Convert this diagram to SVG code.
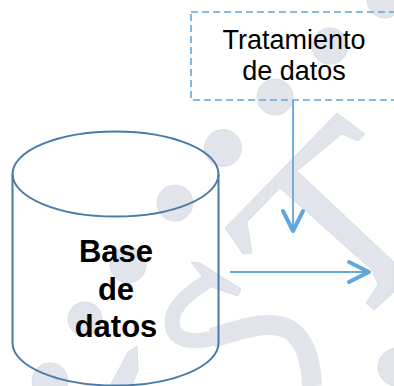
<svg xmlns="http://www.w3.org/2000/svg" width="394" height="386" viewBox="0 0 394 386">
<defs>
<style>
.wm{fill:#e1e4ea;stroke:#d6dae0;stroke-width:0.8}
.wms{fill:none;stroke:#e1e4ea;stroke-linecap:butt}
.conn{stroke:#62a7dc;stroke-width:1.8;fill:none}
.head{fill:none;stroke:#62a7dc;stroke-width:4;stroke-linecap:round;stroke-linejoin:round}
.cyl{fill:none;stroke:#4a7ba6;stroke-width:2}
.dash{fill:none;stroke:#62a7dc;stroke-width:1.6;stroke-dasharray:7 4}
.lbl{font-family:"Liberation Sans",Arial,sans-serif;font-size:27px;fill:#000;text-anchor:middle}
.bold{font-family:"Liberation Sans",Arial,sans-serif;font-size:31px;font-weight:bold;fill:#000;text-anchor:middle}
</style>
<marker id="arr" markerUnits="userSpaceOnUse" viewBox="0 0 26 26" markerWidth="26" markerHeight="26" refX="23" refY="13" orient="auto">
<path class="head" d="M3,3 L23,13 L3,23"/>
</marker>
</defs>
<g id="watermark">
<circle class="wm" cx="385" cy="0" r="18"/>
<circle class="wm" cx="330" cy="46" r="18"/>
<circle class="wm" cx="275" cy="97" r="18"/>
<circle class="wm" cx="223" cy="148" r="18.5"/>
<circle class="wm" cx="175" cy="203" r="18"/>
<circle class="wm" cx="128" cy="265" r="18"/>
<circle class="wm" cx="85" cy="319" r="17"/>
<circle class="wm" cx="50" cy="381" r="18"/>
<circle class="wm" cx="397" cy="367" r="19"/>
<polygon class="wm" points="337,113 365,134 358,141 342,134 297,171 394,262 394,292 374,310 366,303 378,285 372,270 280,188 247,222 252,253 243,254 225,228"/>
<path class="wms" d="M213,278 C192,290 172,305 172,322 C172,340 190,345 217,337" stroke-width="15"/>
<path class="wms" d="M212,338 C240,330 268,318 290,330 C305,340 311,360 312,386" stroke-width="20"/>
<polygon class="wm" points="191,262 200,263 241,289 238,296 214,288 205,280"/>
<polygon class="wm" points="110,386 128,352 137,346 138,370 132,386"/>
</g>
<g id="connectors">
<line class="conn" x1="293" y1="100" x2="293" y2="231" marker-end="url(#arr)"/>
<line class="conn" x1="230" y1="272" x2="369" y2="272" marker-end="url(#arr)"/>
</g>
<g id="node-tratamiento">
<rect class="dash" x="191" y="12" width="230" height="88"/>
<text class="lbl" x="294" y="49">Tratamiento</text>
<text class="lbl" x="294" y="80">de datos</text>
</g>
<g id="node-base-datos">
<path class="cyl" d="M12.5,174 L12.5,343 A103,42.5 0 0 0 218.5,343 L218.5,174"/>
<ellipse class="cyl" cx="115.5" cy="174" rx="103" ry="42.5"/>
<text class="bold" x="116" y="262">Base</text>
<text class="bold" x="116" y="300">de</text>
<text class="bold" x="116" y="337">datos</text>
</g>
</svg>
